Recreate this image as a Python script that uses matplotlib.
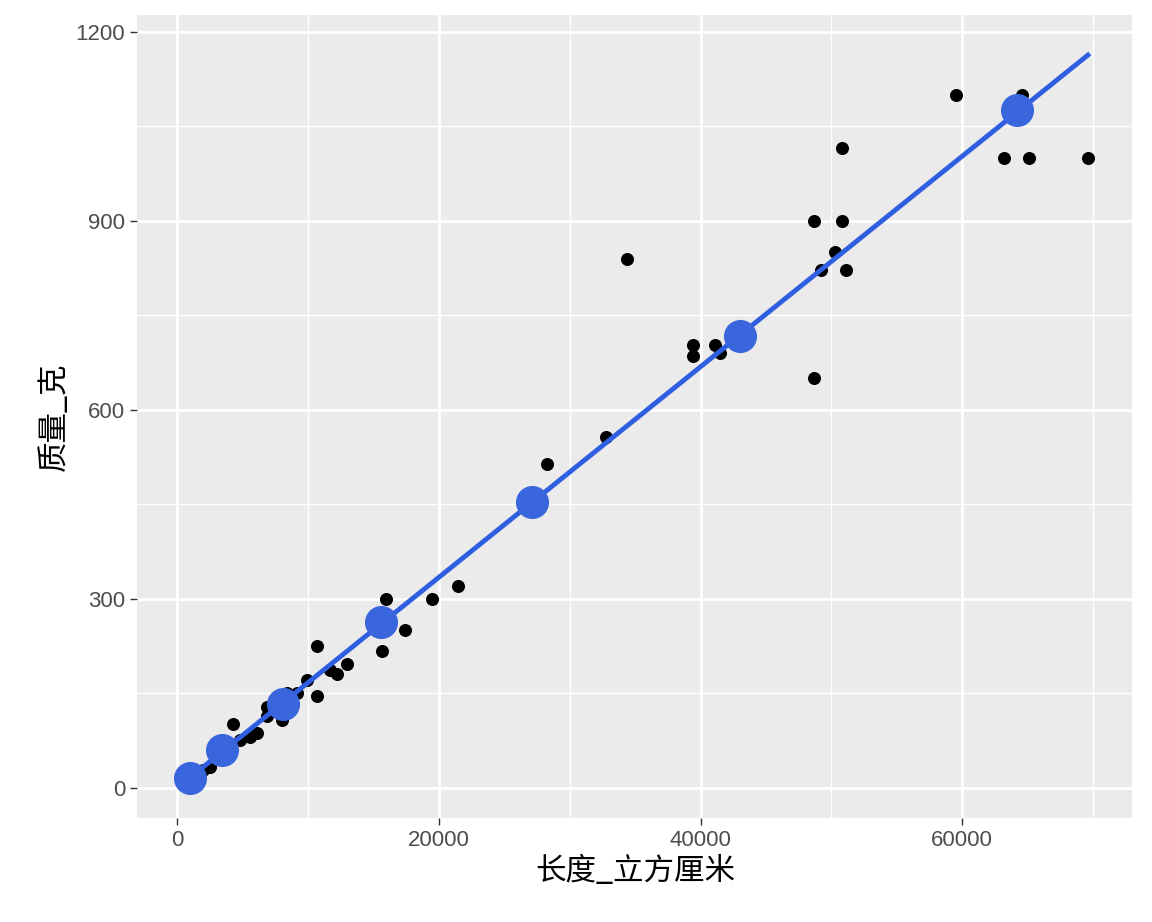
import matplotlib
matplotlib.use("Agg")
import matplotlib.pyplot as plt
from matplotlib.ticker import MultipleLocator

plt.rcParams['font.family'] = ['Noto Sans CJK SC', 'DejaVu Sans']

vol = [16000, 19500, 21500, 17400, 15700, 10700, 13000, 12200, 11700, 9900, 10700, 9200, 8400,
       8000, 6900, 6900, 4300, 6100, 5600, 4800, 2500, 2000, 1000, 500, 1500,
       28300, 32800, 34400, 39400, 39400, 41100, 41500, 48700, 48700, 49200, 50300, 50800,
       50800, 51100, 59500, 63200, 64600, 65100, 69600]
mass = [300, 300, 320, 250, 217, 225, 197, 180, 187, 171, 146, 150, 150,
        108, 113, 128, 101, 87, 81, 76, 33, 28, 13, 8, 17,
        514, 557, 840, 702, 686, 702, 690, 900, 651, 821, 851, 1016,
        900, 821, 1100, 1000, 1100, 1000, 1000]
bin_x = [1000, 3400, 8100, 15600, 27100, 43000, 64200]
bin_y = [16, 59, 133, 263, 454, 717, 1075]
line_x = [1000, 69600]
line_y = [16, 1163]

fig = plt.figure(figsize=(11.52, 9.22), dpi=100)
ax = fig.add_axes([0.119, 0.113, 0.864, 0.871])
ax.set_facecolor('#EBEBEB')
ax.scatter(vol, mass, s=70, color='black', zorder=3)
ax.plot(line_x, line_y, color='#2F5FE0', lw=3.5, zorder=4)
ax.scatter(bin_x, bin_y, s=520, color='#3A66DD', zorder=5)
ax.set_xlim(-3050, 73000)
ax.set_ylim(-48, 1227)
ax.xaxis.set_major_locator(MultipleLocator(20000))
ax.xaxis.set_minor_locator(MultipleLocator(10000))
ax.yaxis.set_major_locator(MultipleLocator(300))
ax.yaxis.set_minor_locator(MultipleLocator(150))
ax.grid(which='major', color='white', lw=2)
ax.grid(which='minor', color='white', lw=1)
ax.set_axisbelow(True)
for s in ax.spines.values():
    s.set_visible(False)
ax.tick_params(which='major', length=5, width=1, color='#333333', labelsize=16, labelcolor='#4D4D4D')
ax.tick_params(which='minor', length=0)
for lab in ax.get_xticklabels() + ax.get_yticklabels():
    lab.set_family(['Liberation Sans', 'DejaVu Sans'])
ax.set_xlabel('长度_立方厘米', fontsize=22, color='black')
ax.set_ylabel('质量_克', fontsize=22, color='black')
fig.savefig('out.png', dpi=100)
